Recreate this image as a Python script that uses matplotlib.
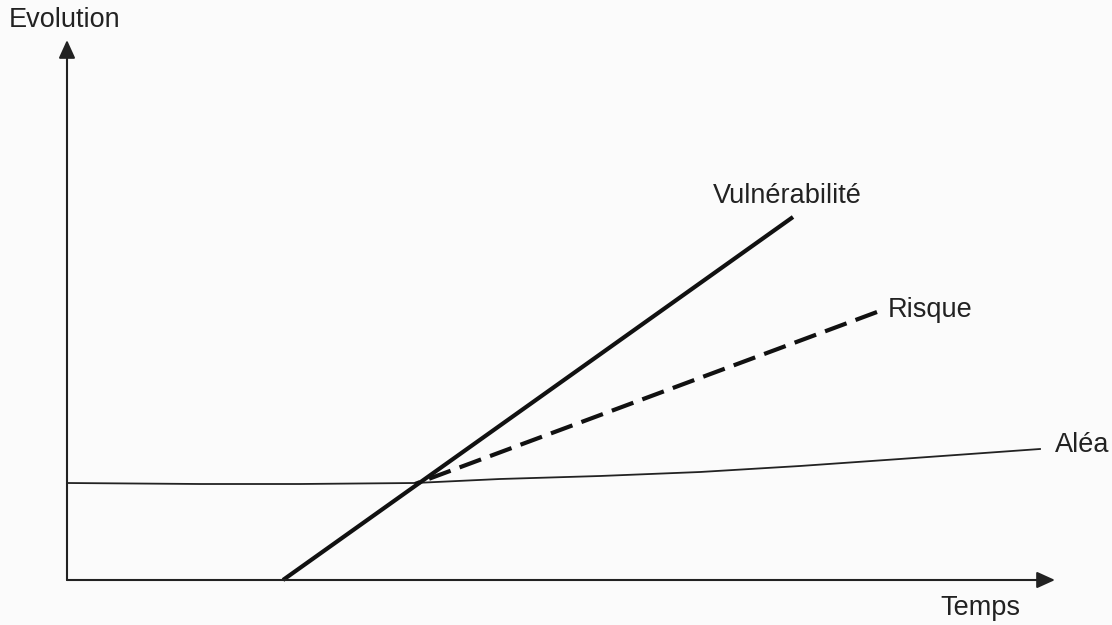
import numpy as np
import matplotlib
matplotlib.use('Agg')
import matplotlib.pyplot as plt

plt.rcParams['font.family'] = ['Liberation Sans', 'DejaVu Sans']

# values (time units, evolution units)
vuln_t = [216, 726]
vuln_e = [0, 363]

risque_t = [348, 810]
risque_e = [96, 268]

alea_t = [0, 133, 233, 348, 433, 533, 633, 733, 833, 973]
alea_e = [97, 96, 96, 97, 101, 104, 108, 114, 121, 131]

fig = plt.figure(figsize=(11.12, 6.25), dpi=100)
fig.patch.set_facecolor('#fbfbfb')
ax = fig.add_axes([0, 0, 1, 1])
ax.set_facecolor('#fbfbfb')
ax.set_xlim(-67, 1045)
ax.set_ylim(-45, 580)
ax.axis('off')

# axes with arrows
ax.annotate('', xy=(0, 540), xytext=(0, 0),
            arrowprops=dict(arrowstyle='-|>,head_length=1.1,head_width=0.5',
                            color='#222222', lw=1.5, shrinkA=0, shrinkB=0))
ax.annotate('', xy=(988, 0), xytext=(0, 0),
            arrowprops=dict(arrowstyle='-|>,head_length=1.1,head_width=0.5',
                            color='#222222', lw=1.5, shrinkA=0, shrinkB=0))

ax.plot(alea_t, alea_e, color='#222222', lw=1.3)
ax.plot(vuln_t, vuln_e, color='#111111', lw=3.0, solid_capstyle='butt')
# drawn from the far end so the last dash is a full one
ax.plot(risque_t[::-1], risque_e[::-1], color='#111111', lw=3.0, dashes=(5.5, 2.3))

fs = 19.5
ax.text(-58, 560, 'Evolution', fontsize=fs, va='center', ha='left', color='#222222')
ax.text(913, -28, 'Temps', fontsize=fs, va='center', ha='center', color='#222222')
ax.text(988, 135, 'Aléa', fontsize=fs, va='center', ha='left', color='#222222')
ax.text(821, 270, 'Risque', fontsize=fs, va='center', ha='left', color='#222222')
ax.text(720, 384, 'Vulnérabilité', fontsize=fs, va='center', ha='center', color='#222222')

plt.savefig('out.png', dpi=100, facecolor=fig.get_facecolor())
